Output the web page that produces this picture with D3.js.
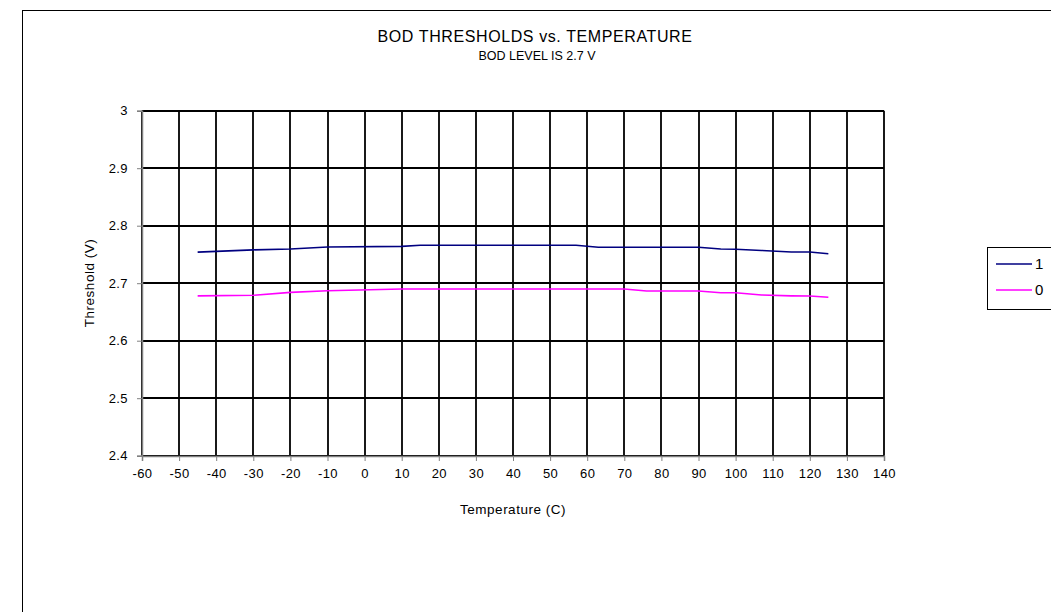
<!DOCTYPE html>
<html><head><meta charset="utf-8">
<script src="https://cdn.jsdelivr.net/npm/d3@7"></script>
<style>body{margin:0;background:#fff}svg{display:block}text{font-family:"Liberation Sans",Arial,sans-serif;fill:#000}</style>
</head><body>
<svg id="c" width="1051" height="612"></svg>
<script>
const temps = [-45, -30, -20, -10, 10, 15, 57, 63, 70, 76, 90, 96, 100, 107, 115, 120, 125];
const series1 = [2.754, 2.758, 2.7595, 2.763, 2.764, 2.766, 2.766, 2.7624, 2.7624, 2.7624, 2.7624, 2.7595, 2.759, 2.757, 2.7543, 2.7543, 2.7513];
const series0 = [2.678, 2.679, 2.684, 2.687, 2.690, 2.690, 2.690, 2.690, 2.690, 2.6864, 2.6864, 2.6835, 2.6835, 2.6795, 2.678, 2.6777, 2.6755];
const seriesNames = ["1", "0"];
const xTicks = d3.range(-60, 141, 10);
const yTicks = [2.4, 2.5, 2.6, 2.7, 2.8, 2.9, 3];
const title = "BOD THRESHOLDS vs. TEMPERATURE";
const subtitle = "BOD LEVEL IS 2.7 V";

const svg = d3.select("#c");
const x = d3.scaleLinear().domain([-60, 140]).range([142, 884]);
const y = d3.scaleLinear().domain([2.4, 3]).range([455.7, 110.7]);

// chart border
svg.append("rect").attr("x", 22.5).attr("y", 10.5).attr("width", 1040).attr("height", 620)
  .attr("fill", "none").attr("stroke", "#000").attr("stroke-width", 1);

// gridlines
const g = svg.append("g");
g.selectAll(".vg").data(xTicks).join("line")
  .attr("x1", d => Math.round(x(d))).attr("x2", d => Math.round(x(d)))
  .attr("y1", y(3)).attr("y2", y(2.4)).attr("stroke", "#000").attr("stroke-width", 1.8);
g.selectAll(".hg").data(yTicks).join("line")
  .attr("x1", x(-60)).attr("x2", x(140))
  .attr("y1", d => Math.round(y(d))).attr("y2", d => Math.round(y(d))).attr("stroke", "#000").attr("stroke-width", 1.8);

// axes
const xAxis = d3.axisBottom(x).tickValues(xTicks).tickSize(5).tickPadding(8).tickFormat(d => String(d));
const yAxis = d3.axisLeft(y).tickValues(yTicks).tickSize(5).tickPadding(9).tickFormat(d => d === 3 ? "3" : d.toFixed(1));
const xa = svg.append("g").attr("transform", `translate(0,${Math.round(y(2.4))})`).call(xAxis);
const ya = svg.append("g").attr("transform", `translate(${Math.round(x(-60))},0)`).call(yAxis);
[xa, ya].forEach(a => {
  a.attr("font-size", 13).attr("font-family", '"Liberation Sans",Arial,sans-serif');
  a.selectAll("text").style("letter-spacing", "0.4px");
  a.selectAll("path").attr("stroke", "#808080").attr("stroke-width", 1.5);
  a.selectAll("line").attr("stroke", "#808080");
});

// lines
const colors = ["#000080", "#ff00ff"];
const data = [series1, series0];
const line = d3.line().x((d, i) => x(temps[i])).y(d => y(d));
data.forEach((s, k) => {
  svg.append("path").datum(s).attr("d", line).attr("fill", "none")
    .attr("stroke", colors[k]).attr("stroke-width", 1.6);
});

// titles
svg.append("text").attr("x", 535).attr("y", 42).attr("text-anchor", "middle").style("font-size", "16px").style("letter-spacing", "0.6px").text(title);
svg.append("text").attr("x", 537).attr("y", 60).attr("text-anchor", "middle").style("font-size", "12.5px").text(subtitle);
svg.append("text").attr("x", 513).attr("y", 514).attr("text-anchor", "middle").style("font-size", "13.5px").style("letter-spacing", "0.5px").text("Temperature (C)");
svg.append("text").attr("transform", "translate(94,283) rotate(-90)").attr("text-anchor", "middle").style("font-size", "13.5px").style("letter-spacing", "0.5px").text("Threshold (V)");

// legend
const lg = svg.append("g");
lg.append("rect").attr("x", 987.5).attr("y", 247.5).attr("width", 70).attr("height", 62)
  .attr("fill", "#fff").attr("stroke", "#000").attr("stroke-width", 1);
seriesNames.forEach((n, i) => {
  const yy = 264 + i * 26;
  lg.append("line").attr("x1", 996).attr("x2", 1032).attr("y1", yy).attr("y2", yy)
    .attr("stroke", colors[i]).attr("stroke-width", 1.6);
  lg.append("text").attr("x", 1035).attr("y", yy + 5).style("font-size", "15px").text(n);
});
</script>
</body></html>
